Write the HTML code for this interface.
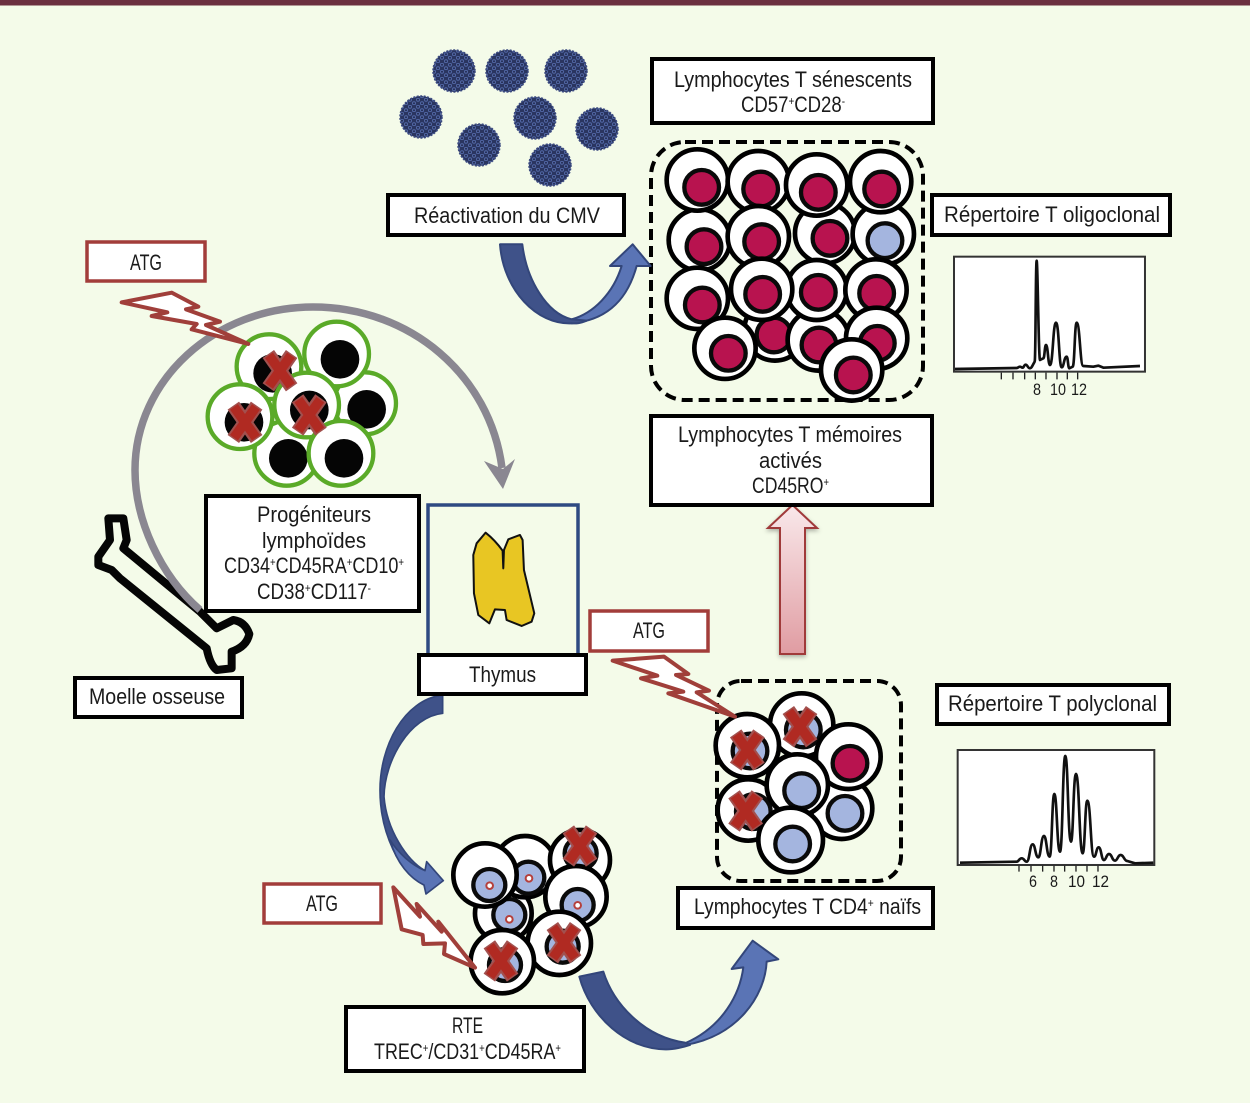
<!DOCTYPE html>
<html lang="fr"><head><meta charset="utf-8"><title>Lymphocytes T</title>
<style>
html,body{margin:0;padding:0;background:#f4fbe9;width:1250px;height:1103px;overflow:hidden}
svg{display:block}
text{font-family:"Liberation Sans",sans-serif;font-size:22.5px;fill:#1a1a1a}
.box{fill:#fff;stroke:#000;stroke-width:4}
.red{fill:#fff;stroke:#a23d3a;stroke-width:3.5}
.o{fill:#fff;stroke:#000;stroke-width:14}
.g{fill:#fff;stroke:#5aaa28;stroke-width:13}
.k{fill:#050505}
.c{fill:#b8134f;stroke:#0a0a0a;stroke-width:13}
.b{fill:#a4b5df;stroke:#0a0a0a;stroke-width:13}
.d{fill:#fff;stroke:#b5403c;stroke-width:6}
.bolt{fill:#fff;stroke:#a03f3a;stroke-width:12;stroke-linejoin:round}
.dk{fill:#3f5289;stroke:#33467a;stroke-width:6;stroke-linejoin:round}
.lt{fill:#5a74b5;stroke:#33467a;stroke-width:6;stroke-linejoin:round}
.dash{fill:none;stroke:#000;stroke-width:4;stroke-dasharray:11 6}
.curve{fill:none;stroke:#111;stroke-width:8;stroke-linejoin:round}
.tick{stroke:#222;stroke-width:4}
.num{font-size:17px}
</style></head><body>
<svg width="1250" height="1103" viewBox="0 0 1250 1103" xmlns="http://www.w3.org/2000/svg">
<defs>
<pattern id="vp" width="8" height="7" patternUnits="userSpaceOnUse">
<rect width="8" height="7" fill="#2a3560"/>
<circle cx="2" cy="1.75" r="1.5" fill="#222b52" stroke="#5268a6" stroke-width="1"/>
<circle cx="6" cy="5.25" r="1.5" fill="#222b52" stroke="#5268a6" stroke-width="1"/>
</pattern>
<linearGradient id="pg" x1="0" y1="0" x2="0" y2="1"><stop offset="0" stop-color="#f9e8ea"/><stop offset="1" stop-color="#e09ca2"/></linearGradient>
<g id="x"><path d="M-35 -50 L35 50 M35 -50 L-35 50" stroke="#a2504e" stroke-width="42" fill="none"/><path d="M-33 -46 L33 46 M33 -46 L-33 46" stroke="#b02a22" stroke-width="29" fill="none"/></g>
</defs>
<rect width="1250" height="1103" fill="#f4fbe9"/>
<rect width="1250" height="5.5" fill="#6b3040"/>

<!-- viruses -->
<g fill="url(#vp)" stroke="#3b4a80" stroke-width="1.5" stroke-dasharray="2 1.5">
<circle cx="454" cy="71" r="21"/><circle cx="507" cy="71" r="21"/><circle cx="566" cy="71" r="21"/>
<circle cx="421" cy="117" r="21"/><circle cx="535" cy="118" r="21"/><circle cx="597" cy="129" r="21"/>
<circle cx="479" cy="145" r="21"/><circle cx="550" cy="165" r="21"/>
</g>

<!-- bone -->
<g transform="translate(70,490) scale(.3333)">
<path d="M115 85 L160 85 L170 150 L160 175 L390 365 L440 415 L490 390 Q525 395 538 432 Q530 470 485 485 L485 535 L440 540 Q420 525 410 475 L150 265 L125 240 L85 225 L85 200 L120 150 Z" fill="#f4fbe9" stroke="#050505" stroke-width="24" stroke-linejoin="round"/>
</g>

<!-- grey arc -->
<path d="M200 610 C160 575 135 520 135 470 C135 380 215 307 313 307 C410 307 490 375 502 468" fill="none" stroke="#8a8791" stroke-width="7.5"/>
<polygon points="503,489 484,461 503,469 515,459" fill="#8a8791"/>

<!-- green cells -->
<g transform="translate(80,280) scale(.3333)">
<circle class="g" cx="855" cy="370" r="93"/><circle class="k" cx="860" cy="388" r="58"/>
<circle class="g" cx="567" cy="260" r="97"/><circle class="k" cx="578" cy="280" r="58"/>
<circle class="g" cx="770" cy="222" r="97"/><circle class="k" cx="780" cy="238" r="58"/>
<circle class="g" cx="620" cy="520" r="97"/><circle class="k" cx="625" cy="535" r="58"/>
<circle class="g" cx="480" cy="410" r="97"/><circle class="k" cx="492" cy="427" r="58"/>
<circle class="g" cx="680" cy="375" r="97"/><circle class="k" cx="688" cy="390" r="58"/>
<circle class="g" cx="783" cy="520" r="97"/><circle class="k" cx="792" cy="535" r="58"/>
<use href="#x" x="600" y="272"/><use href="#x" x="495" y="427"/><use href="#x" x="688" y="405"/>
<polygon class="bolt" points="125,67 275,38 355,80 318,88 420,125 378,135 505,192 335,148 350,132 215,108 262,97"/>
</g>

<!-- thymus -->
<rect x="428" y="505" width="150" height="150" fill="none" stroke="#2e4a82" stroke-width="3.5"/>
<g transform="translate(70,490) scale(.3333)">
<path d="M1247 128 Q1275 150 1298 182 L1300 235 L1302 180 L1315 148 L1350 135 L1358 150 L1362 240 L1393 370 L1385 395 L1355 408 L1310 390 L1305 360 L1275 358 L1258 400 L1225 375 L1212 310 L1210 195 L1220 160 Z" fill="#e8c623" stroke="#111" stroke-width="6" stroke-linejoin="round"/>
</g>

<!-- big dashed group -->
<rect class="dash" x="651" y="142" width="272" height="258" rx="34"/>
<g transform="translate(640,130) scale(.3333)">
<circle class="o" cx="555" cy="310" r="90"/><circle class="c" cx="570" cy="325" r="52"/>
<circle class="o" cx="730" cy="312" r="92"/><circle class="b" cx="735" cy="332" r="52"/>
<circle class="o" cx="178" cy="330" r="92"/><circle class="c" cx="192" cy="350" r="52"/>
<circle class="o" cx="172" cy="150" r="92"/><circle class="c" cx="185" cy="172" r="52"/>
<circle class="o" cx="355" cy="155" r="92"/><circle class="c" cx="362" cy="177" r="52"/>
<circle class="o" cx="530" cy="165" r="92"/><circle class="c" cx="535" cy="187" r="52"/>
<circle class="o" cx="722" cy="155" r="92"/><circle class="c" cx="725" cy="177" r="52"/>
<circle class="o" cx="355" cy="320" r="92"/><circle class="c" cx="365" cy="335" r="52"/>
<circle class="o" cx="172" cy="505" r="92"/><circle class="c" cx="187" cy="525" r="52"/>
<circle class="o" cx="405" cy="600" r="92"/><circle class="c" cx="402" cy="615" r="52"/>
<circle class="o" cx="535" cy="630" r="92"/><circle class="c" cx="537" cy="645" r="52"/>
<circle class="o" cx="530" cy="480" r="90"/><circle class="c" cx="535" cy="487" r="52"/>
<circle class="o" cx="708" cy="480" r="92"/><circle class="c" cx="710" cy="490" r="52"/>
<circle class="o" cx="365" cy="478" r="92"/><circle class="c" cx="368" cy="493" r="52"/>
<circle class="o" cx="710" cy="625" r="92"/><circle class="c" cx="712" cy="640" r="52"/>
<circle class="o" cx="255" cy="655" r="92"/><circle class="c" cx="265" cy="670" r="52"/>
<circle class="o" cx="635" cy="720" r="92"/><circle class="c" cx="640" cy="735" r="52"/>
</g>

<!-- CD4 group -->
<rect class="dash" x="717" y="681" width="184" height="200" rx="24"/>
<g transform="translate(690,670) scale(.3333)">
<circle class="o" cx="335" cy="165" r="95"/><circle class="b" cx="340" cy="180" r="52"/>
<circle class="o" cx="172" cy="227" r="95"/><circle class="b" cx="180" cy="243" r="52"/>
<circle class="o" cx="175" cy="420" r="92"/><circle class="b" cx="190" cy="425" r="52"/>
<circle class="o" cx="455" cy="415" r="92"/><circle class="b" cx="465" cy="430" r="52"/>
<circle class="o" cx="475" cy="260" r="97"/><circle class="c" cx="480" cy="280" r="52"/>
<circle class="o" cx="322" cy="345" r="92"/><circle class="b" cx="335" cy="362" r="52"/>
<circle class="o" cx="302" cy="510" r="97"/><circle class="b" cx="308" cy="522" r="52"/>
<use href="#x" x="172" y="240"/><use href="#x" x="330" y="170"/><use href="#x" x="167" y="423"/>
</g>

<!-- RTE cells -->
<g transform="translate(370,800) scale(.3333)">
<circle class="o" cx="400" cy="340" r="85"/><circle class="b" cx="418" cy="345" r="48"/><circle class="d" cx="418" cy="358" r="10"/>
<circle class="o" cx="465" cy="200" r="92"/><circle class="b" cx="475" cy="233" r="48"/><circle class="d" cx="477" cy="235" r="10"/>
<circle class="o" cx="630" cy="180" r="90"/><circle class="b" cx="632" cy="160" r="48"/>
<circle class="o" cx="618" cy="290" r="92"/><circle class="b" cx="623" cy="315" r="48"/><circle class="d" cx="623" cy="316" r="10"/>
<circle class="o" cx="345" cy="225" r="95"/><circle class="b" cx="358" cy="255" r="48"/><circle class="d" cx="359" cy="257" r="10"/>
<circle class="o" cx="568" cy="430" r="95"/><circle class="b" cx="578" cy="440" r="48"/>
<circle class="o" cx="397" cy="485" r="95"/><circle class="b" cx="405" cy="495" r="48"/>
<use href="#x" x="630" y="138"/><use href="#x" x="582" y="428"/><use href="#x" x="393" y="483"/>
<polygon class="bolt" points="70,262 150,350 140,312 215,395 205,365 315,503 222,462 225,430 160,432 158,405 95,388"/>
</g>

<!-- ATG2 bolt -->
<g transform="translate(560,490) scale(.3333)">
<polygon class="bolt" points="158,512 312,500 385,552 348,555 447,602 410,607 525,680 325,610 370,605 243,565 292,557"/>
</g>

<!-- blue arrow 1 -->
<g transform="translate(380,30) scale(.3333)">
<path class="lt" d="M575 868 C640 850 700 790 725 708 L690 708 L758 643 L812 708 L770 708 C745 800 690 870 575 880 Z"/>
<path class="dk" d="M360 643 L427 643 C440 750 500 850 575 868 L620 872 C600 880 590 881 575 880 C470 885 370 780 360 643 Z"/>
</g>
<!-- blue arrow 2 -->
<g transform="translate(370,690) scale(.3333)">
<path class="dk" style="stroke-width:5" d="M218 15 L218 70 C120 80 44 210 42 320 C50 420 110 510 165 542 L162 585 C90 550 30 430 30 300 C30 170 100 30 218 15 Z"/>
<path class="lt" style="stroke-width:5" d="M165 542 L170 515 L220 572 L168 612 L162 585 C120 565 80 520 60 450 C85 490 125 525 165 542 Z"/>
</g>
<!-- blue arrow 3 -->
<g transform="translate(570,930) scale(.3333)">
<path class="lt" d="M345 340 C460 290 510 190 520 112 L485 117 L548 32 L625 88 L590 95 C585 200 500 320 345 345 Z"/>
<path class="dk" d="M28 140 L100 125 C130 220 220 320 345 338 L360 345 C340 352 310 358 290 358 C170 360 60 260 28 140 Z"/>
</g>

<!-- pink arrow -->
<polygon points="792.5,505 768,528 780,528 780,654 805,654 805,528 817,528" fill="url(#pg)" stroke="#a03a3a" stroke-width="2" style="filter:drop-shadow(0 2px 2px rgba(0,0,0,.3))"/>

<!-- boxes -->
<rect class="box" x="652" y="59" width="281" height="64"/>
<rect class="box" x="388" y="195" width="236" height="40"/>
<rect class="box" x="932" y="195" width="238" height="40"/>
<rect class="box" x="651" y="416" width="281" height="89"/>
<rect class="box" x="206" y="496" width="213" height="115"/>
<rect class="box" x="419" y="655" width="167" height="39"/>
<rect class="box" x="75" y="678" width="167" height="39"/>
<rect class="box" x="937" y="685" width="232" height="39"/>
<rect class="box" x="678" y="888" width="255" height="40"/>
<rect class="box" x="346" y="1007" width="238" height="64"/>
<rect class="red" x="87" y="242" width="118" height="39"/>
<rect class="red" x="590" y="611" width="118" height="40"/>
<rect class="red" x="264" y="884" width="117" height="39"/>

<!-- labels -->
<g>
<text x="674" y="87" textLength="238" lengthAdjust="spacingAndGlyphs">Lymphocytes T sénescents</text>
<text x="741" y="112" textLength="104" lengthAdjust="spacingAndGlyphs">CD57<tspan dy="-7" font-size="12">+</tspan><tspan dy="7">CD28</tspan><tspan dy="-7" font-size="12">-</tspan></text>
<text x="414" y="223" textLength="186" lengthAdjust="spacingAndGlyphs">Réactivation du CMV</text>
<text x="944" y="222" textLength="216" lengthAdjust="spacingAndGlyphs">Répertoire T oligoclonal</text>
<text x="678" y="442" textLength="224" lengthAdjust="spacingAndGlyphs">Lymphocytes T mémoires</text>
<text x="759" y="468" textLength="63" lengthAdjust="spacingAndGlyphs">activés</text>
<text x="752" y="493" textLength="77" lengthAdjust="spacingAndGlyphs">CD45RO<tspan dy="-7" font-size="12">+</tspan></text>
<text x="130" y="270" textLength="32" lengthAdjust="spacingAndGlyphs">ATG</text>
<text x="633" y="638" textLength="32" lengthAdjust="spacingAndGlyphs">ATG</text>
<text x="306" y="911" textLength="32" lengthAdjust="spacingAndGlyphs">ATG</text>
<text x="257" y="522" textLength="114" lengthAdjust="spacingAndGlyphs">Progéniteurs</text>
<text x="262" y="548" textLength="104" lengthAdjust="spacingAndGlyphs">lymphoïdes</text>
<text x="224" y="573" textLength="180" lengthAdjust="spacingAndGlyphs">CD34<tspan dy="-7" font-size="12">+</tspan><tspan dy="7">CD45RA</tspan><tspan dy="-7" font-size="12">+</tspan><tspan dy="7">CD10</tspan><tspan dy="-7" font-size="12">+</tspan></text>
<text x="257" y="599" textLength="114" lengthAdjust="spacingAndGlyphs">CD38<tspan dy="-7" font-size="12">+</tspan><tspan dy="7">CD117</tspan><tspan dy="-7" font-size="12">-</tspan></text>
<text x="469" y="682" textLength="67" lengthAdjust="spacingAndGlyphs">Thymus</text>
<text x="89" y="704" textLength="136" lengthAdjust="spacingAndGlyphs">Moelle osseuse</text>
<text x="948" y="711" textLength="209" lengthAdjust="spacingAndGlyphs">Répertoire T polyclonal</text>
<text x="694" y="914" textLength="227" lengthAdjust="spacingAndGlyphs">Lymphocytes T CD4<tspan dy="-7" font-size="12">+</tspan><tspan dy="7"> naïfs</tspan></text>
<text x="452" y="1033" textLength="31" lengthAdjust="spacingAndGlyphs">RTE</text>
<text x="374" y="1059" textLength="187" lengthAdjust="spacingAndGlyphs">TREC<tspan dy="-7" font-size="12">+</tspan><tspan dy="7">/CD31</tspan><tspan dy="-7" font-size="12">+</tspan><tspan dy="7">CD45RA</tspan><tspan dy="-7" font-size="12">+</tspan></text>
</g>

<!-- chart 1 -->
<g transform="translate(940,250) scale(.3333)">
<rect x="42" y="20" width="573" height="345" fill="#fff" stroke="#333" stroke-width="6"/>
<path class="curve" d="M45 357 L230 354 C235 354 235 350 240 350 C244 350 244 353 248 353 C252 353 252 344 257 344 C263 344 263 355 270 355 C275 355 278 345 284 335 C287 335 287 32 290 32 C293 32 296 330 300 330 L310 325 C314 325 314 285 318 285 C324 285 324 345 330 345 C339 345 339 218 348 218 C357 218 357 352 365 352 C372 352 372 320 380 320 C384 320 384 355 388 355 L398 350 C404 350 404 218 410 218 C420 218 420 348 430 348 L460 350 L475 347 L490 353 L600 348"/>
<path class="tick" d="M184 368V388M219 368V388M254 368V388M286 368V388M318 368V388M351 368V388M382 368V388M413 368V388"/>
</g>
<text class="num" x="1033" y="395" textLength="8" lengthAdjust="spacingAndGlyphs">8</text><text class="num" x="1050" y="395" textLength="16" lengthAdjust="spacingAndGlyphs">10</text><text class="num" x="1071" y="395" textLength="16" lengthAdjust="spacingAndGlyphs">12</text>

<!-- chart 2 -->
<g transform="translate(945,740) scale(.3333)">
<rect x="38" y="30" width="590" height="345" fill="#fff" stroke="#333" stroke-width="6"/>
<path class="curve" d="M45 368 L215 365 C222 365 222 355 230 355 C238 355 238 365 245 365 C254 365 254 313 263 313 C271 313 271 352 280 352 C288 352 288 288 297 288 C305 288 305 350 314 350 C321 350 321 162 328 162 C336 162 336 335 345 335 C353 335 353 48 361 48 C369 48 369 305 378 305 C385 305 385 102 393 102 C403 102 403 340 413 340 C420 340 420 182 427 182 C437 182 437 350 447 350 C454 350 454 322 461 322 C469 322 469 360 477 360 C484 360 484 342 492 342 C501 342 501 362 510 362 C518 362 518 345 527 345 C537 345 537 363 547 363 L570 370 L625 368"/>
<path class="tick" d="M222 377V395M258 377V395M293 377V395M327 377V395M359 377V395M393 377V395M426 377V395M459 377V395"/>
</g>
<text class="num" x="1029" y="887" textLength="8" lengthAdjust="spacingAndGlyphs">6</text><text class="num" x="1050" y="887" textLength="8" lengthAdjust="spacingAndGlyphs">8</text><text class="num" x="1068" y="887" textLength="17" lengthAdjust="spacingAndGlyphs">10</text><text class="num" x="1092" y="887" textLength="17" lengthAdjust="spacingAndGlyphs">12</text>
</svg>
</body></html>
